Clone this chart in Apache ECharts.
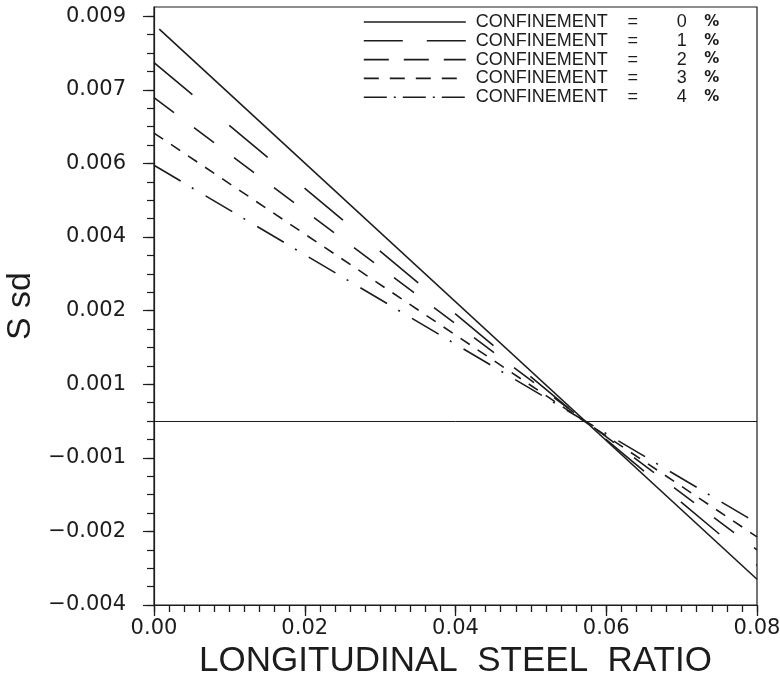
<!DOCTYPE html>
<html><head><meta charset="utf-8">
<script src="https://cdn.jsdelivr.net/npm/echarts@6/dist/echarts.min.js"></script>
<style>html,body{margin:0;padding:0;background:#fff}#c{width:780px;height:679px}</style>
</head><body><div id="c"></div>
<script>
// ---- data ----
const confinement = ['0', '1', '2', '3', '4'];
const seriesNames = ['CONFINEMENT = 0 %', 'CONFINEMENT = 1 %', 'CONFINEMENT = 2 %', 'CONFINEMENT = 3 %', 'CONFINEMENT = 4 %'];
const ratio0 = [0.0007, 0.08];
const ratio = [0.0, 0.08];
const ssd0 = [0.00852, -0.00344];
const ssd1 = [0.00779, -0.00314];
const ssd2 = [0.00703, -0.00280];
const ssd3 = [0.00626, -0.00252];
const ssd4 = [0.00556, -0.00222];
const yTickValues = [-0.004, -0.0024, -0.0008, 0.0008, 0.0024, 0.004, 0.0056, 0.0072, 0.0088];
const yTickLabels = ['\u22120.004', '\u22120.002', '\u22120.001', '0.001', '0.002', '0.004', '0.006', '0.007', '0.009'];
const xTickLabels = ['0.00', '0.02', '0.04', '0.06', '0.08'];

// ---- styles ----
const ink = '#1c1c1c';
const plotDash = ['solid', [50, 48], [25, 25], [11, 9.5], [31, 13, 2, 14]];
const legendDash = ['solid', [39, 24], [25, 15], [15, 11], [23, 7, 2, 7]];
const xs = [ratio0, ratio, ratio, ratio, ratio];
const ys = [ssd0, ssd1, ssd2, ssd3, ssd4];

const yMinor = [];
for (let i = 0; i <= 32; i++) yMinor.push(-0.004 + i * 0.0004);
const xMajor = xTickLabels.map(Number);
const xMinor = [];
for (let i = 0; i <= 40; i++) xMinor.push(i * 0.002);

const series = ys.map((yv, k) => ({
  name: seriesNames[k],
  type: 'line',
  xAxisIndex: 0,
  yAxisIndex: 0,
  showSymbol: false,
  symbol: 'none',
  silent: true,
  animation: false,
  data: yv.map((v, i) => [xs[k][i], v]),
  lineStyle: { color: ink, width: 1.6, type: plotDash[k] },
  itemStyle: { color: ink },
  markLine: k === 0 ? {
    silent: true, symbol: 'none', animation: false,
    label: { show: false },
    lineStyle: { color: ink, width: 1, type: 'solid' },
    data: [{ yAxis: 0 }]
  } : undefined
}));

const lf = { fontFamily: 'Liberation Sans', fontSize: 18, lineHeight: 18, color: ink };
// x ticks drawn from a thin strip grid directly under the plot, pointing down
const tickAxis = (len, vals) => ({
  type: 'value', gridIndex: 1, position: 'top', min: 0, max: 0.08,
  axisLine: { show: false, onZero: false },
  axisTick: { show: true, inside: true, length: len, customValues: vals, lineStyle: { color: ink, width: 1.3 } },
  axisLabel: { show: false },
  splitLine: { show: false }
});

const chart = echarts.init(document.getElementById('c'), null, { renderer: 'canvas' });
chart.setOption({
  backgroundColor: '#fff',
  animation: false,
  grid: [
    { left: 154, right: 23, top: 7, bottom: 74, outerBoundsMode: 'none', show: true, borderColor: ink, borderWidth: 1.2, backgroundColor: 'transparent' },
    { left: 154, right: 23, top: 605, height: 12, outerBoundsMode: 'none', show: false }
  ],
  legend: {
    show: true,
    selectedMode: false,
    orient: 'vertical', left: 358, top: 8,
    itemWidth: 102, itemHeight: 14, itemGap: 0.8,
    data: seriesNames.map((n, k) => ({
      name: n,
      lineStyle: { color: ink, width: 1.6, type: legendDash[k] },
      itemStyle: { opacity: 0, color: 'rgba(0,0,0,0)', borderWidth: 0 }
    })),
    formatter: (n) => {
      const k = seriesNames.indexOf(n);
      return '{s|}{a|CONFINEMENT}{b|=}{g|}{c|' + confinement[k] + '}{h|}{d|%}';
    },
    textStyle: {
      color: ink, fontFamily: 'Liberation Sans', fontSize: 18, lineHeight: 18,
      rich: {
        s: Object.assign({ width: 5 }, lf),
        a: Object.assign({ width: 142 }, lf),
        b: Object.assign({ width: 30, align: 'center' }, lf),
        g: Object.assign({ width: 24 }, lf),
        c: Object.assign({ width: 20, align: 'center' }, lf),
        h: Object.assign({ width: 10 }, lf),
        d: { width: 20, align: 'center', fontFamily: 'DejaVu Sans', fontSize: 15, lineHeight: 18, fontWeight: 'bold', color: ink }
      }
    }
  },
  xAxis: [{
    type: 'value', gridIndex: 0, position: 'bottom', min: 0, max: 0.08, interval: 0.02,
    name: 'LONGITUDINAL  STEEL  RATIO', nameLocation: 'middle', nameGap: 33,
    nameTextStyle: { fontFamily: 'Liberation Sans', fontSize: 35, color: ink },
    axisLine: { show: true, onZero: false, lineStyle: { color: ink, width: 1.2 } },
    axisTick: { show: false },
    minorTick: { show: false },
    axisLabel: { margin: 13, fontFamily: 'DejaVu Sans', fontSize: 21, color: ink,
      formatter: (v) => xTickLabels[Math.round(v / 0.02)] },
    splitLine: { show: false }, minorSplitLine: { show: false }
  }, tickAxis(11, xMajor), tickAxis(7, xMinor)],
  yAxis: [{
    type: 'value', gridIndex: 0, min: -0.004, max: 0.009,
    name: 'S sd', nameLocation: 'middle', nameRotate: 90, nameGap: 115,
    nameTextStyle: { fontFamily: 'Liberation Sans', fontSize: 34, color: ink },
    axisLine: { show: true, onZero: false, lineStyle: { color: ink, width: 1.2 } },
    axisTick: { show: true, length: 11, customValues: yTickValues, lineStyle: { color: ink, width: 1.2 } },
    axisLabel: { margin: 28, fontFamily: 'DejaVu Sans', fontSize: 21, color: ink, customValues: yTickValues,
      formatter: (v) => {
        let best = 0;
        yTickValues.forEach((t, i) => { if (Math.abs(t - v) < Math.abs(yTickValues[best] - v)) best = i; });
        return yTickLabels[best];
      } },
    splitLine: { show: false }
  }, {
    type: 'value', gridIndex: 0, min: -0.004, max: 0.009, position: 'left',
    axisLine: { show: false, onZero: false },
    axisTick: { show: true, length: 7, customValues: yMinor, lineStyle: { color: ink, width: 1.2 } },
    axisLabel: { show: false },
    splitLine: { show: false }
  }, {
    type: 'value', gridIndex: 1, min: 0, max: 1, show: false
  }],
  series: series
});
</script>
</body></html>
